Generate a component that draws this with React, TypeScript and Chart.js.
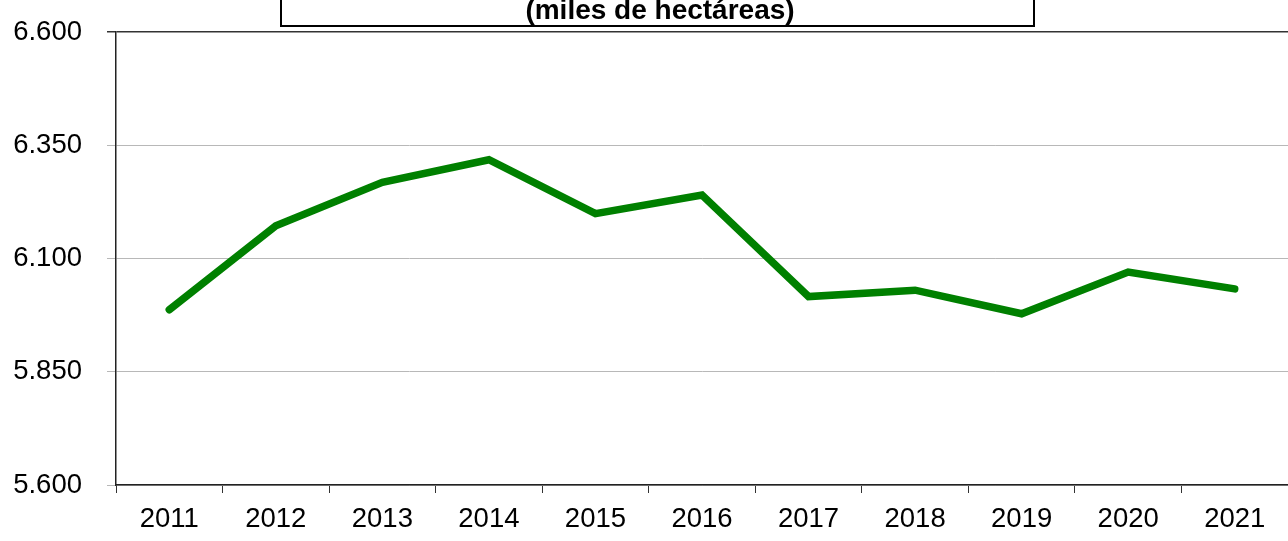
import React, { useEffect, useRef } from "react";
import { Chart, registerables } from "chart.js";

Chart.register(...registerables);

const years = ["2011", "2012", "2013", "2014", "2015", "2016", "2017", "2018", "2019", "2020", "2021"];
const surface = [5987, 6172, 6268, 6318, 6199, 6240, 6016, 6030, 5978, 6070, 6033];
const yMin = 5600;
const yMax = 6600;
const yStep = 250;
const titleText = "(miles de hectáreas)";

const FONT = "'Liberation Sans', Arial, Helvetica, sans-serif";

const fmt = (v: number) => String(v).replace(/\B(?=(\d{3})+(?!\d))/g, ".");

const titleBoxPlugin = {
  id: "titleBox",
  afterDraw(chart: any) {
    const ctx = chart.ctx;
    ctx.save();
    ctx.strokeStyle = "#000";
    ctx.lineWidth = 2;
    ctx.strokeRect(281, -10, 753, 36);
    ctx.fillStyle = "#000";
    ctx.font = `bold 28px ${FONT}`;
    ctx.textAlign = "center";
    ctx.textBaseline = "alphabetic";
    ctx.fillText(titleText, 660, 19);
    ctx.restore();
  },
};

export default function App() {
  const ref = useRef<HTMLCanvasElement | null>(null);

  useEffect(() => {
    if (!ref.current) return;
    const chart = new Chart(ref.current, {
      type: "line",
      data: {
        labels: years,
        datasets: [
          {
            data: surface,
            borderColor: "#008000",
            backgroundColor: "#008000",
            borderWidth: 7.5,
            borderCapStyle: "round",
            borderJoinStyle: "miter",
            pointRadius: 0,
            tension: 0,
            fill: false,
          },
        ],
      },
      options: {
        animation: false,
        responsive: false,
        layout: { padding: { top: 32, left: 0, right: 0, bottom: 0 } },
        plugins: {
          legend: { display: false },
          title: { display: false },
          tooltip: { enabled: false },
        },
        scales: {
          x: {
            type: "category",
            offset: true,
            grid: {
              offset: true,
              drawOnChartArea: false,
              drawTicks: true,
              tickLength: 8,
              color: "#333",
              lineWidth: 1,
            },
            border: { display: true, color: "#222", width: 1.5 },
            ticks: {
              color: "#000",
              font: { family: FONT, size: 27.5 },
              padding: 10,
              maxRotation: 0,
              autoSkip: false,
            },
            afterFit: (s: any) => {
              s.height = 56;
              s.paddingLeft = 0;
              s.paddingRight = 0;
            },
          },
          y: {
            min: yMin,
            max: yMax,
            grid: {
              color: (c: any) => (c.tick && c.tick.value === yMax ? "#333" : "#b8b8b8"),
              lineWidth: (c: any) => (c.tick && c.tick.value === yMax ? 1.5 : 1),
              tickLength: 9,
              drawTicks: true,
            },
            border: { display: true, color: "#222", width: 1.5 },
            ticks: {
              stepSize: yStep,
              color: "#000",
              font: { family: FONT, size: 27.5 },
              padding: 25,
              callback: (v: any) => fmt(Number(v)),
            },
            afterFit: (s: any) => {
              s.width = 116;
              s.paddingTop = 0;
              s.paddingBottom = 0;
            },
          },
        },
      },
      plugins: [titleBoxPlugin],
    });
    return () => chart.destroy();
  }, []);

  return (
    <div style={{ position: "absolute", left: 0, top: 0, width: 1288, height: 541, background: "#fff" }}>
      <canvas ref={ref} width={1288} height={541} style={{ display: "block" }} />
    </div>
  );
}
